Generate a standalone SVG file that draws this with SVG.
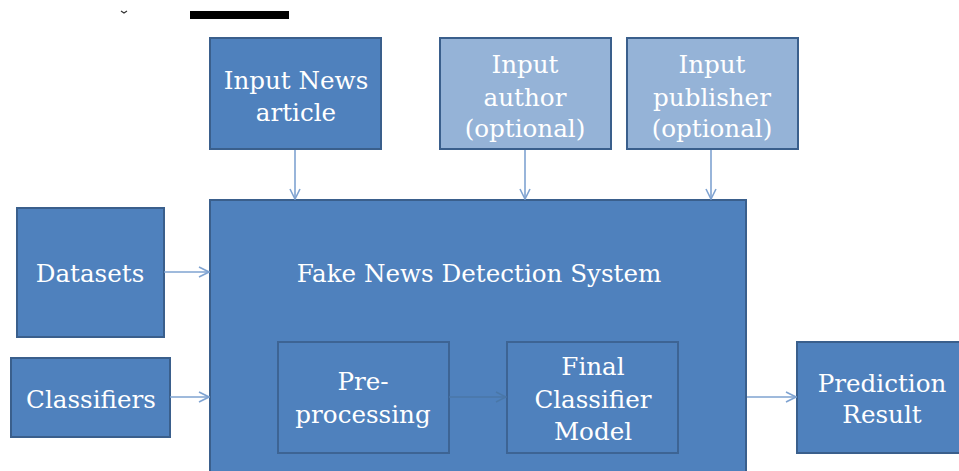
<svg xmlns="http://www.w3.org/2000/svg" width="959" height="471" viewBox="0 0 959 471">
  <style>
    .box { fill: #4F81BD; stroke: #3A5F8C; stroke-width: 2; }
    .box-light { fill: #95B3D7; stroke: #3A5F8C; stroke-width: 2; }
    .inner { fill: #4F81BD; stroke: #3D6494; stroke-width: 2; }
    .label { font-family: "DejaVu Serif", "Liberation Serif", serif; font-size: 24.6px; fill: #FFFFFF; text-anchor: middle; }
    .conn { stroke: #7FA3D1; stroke-width: 1.6; fill: none; }
    .conn-inner { stroke: #4A77A8; stroke-width: 1.4; fill: none; }
  </style>
  <defs>
    <marker id="arrow" viewBox="0 0 12 12" refX="11" refY="6" markerWidth="12" markerHeight="12" markerUnits="userSpaceOnUse" orient="auto">
      <path d="M1,1 L11,6 L1,11" fill="none" stroke="#7FA3D1" stroke-width="1.6"/>
    </marker>
    <marker id="arrow-inner" viewBox="0 0 12 12" refX="11" refY="6" markerWidth="12" markerHeight="12" markerUnits="userSpaceOnUse" orient="auto">
      <path d="M1,1 L11,6 L1,11" fill="none" stroke="#4A77A8" stroke-width="1.4"/>
    </marker>
  </defs>

  <rect width="959" height="471" fill="#FFFFFF"/>

  <!-- header remnants -->
  <rect x="190" y="11" width="99" height="8" fill="#000000"/>
  <path d="M121,11 L124,13 L127,11" fill="none" stroke="#333333" stroke-width="1.2"/>

  <!-- system container -->
  <g id="system">
    <rect class="box" x="210" y="200" width="536" height="290"/>
    <text class="label" x="479" y="282">Fake News Detection System</text>
  </g>

  <g id="input-news">
    <rect class="box" x="210" y="38" width="171" height="111"/>
    <text class="label" x="296" y="89">Input News</text>
    <text class="label" x="296" y="121">article</text>
  </g>

  <g id="input-author">
    <rect class="box-light" x="440" y="38" width="171" height="111"/>
    <text class="label" x="525" y="73">Input</text>
    <text class="label" x="525" y="106">author</text>
    <text class="label" x="525" y="137">(optional)</text>
  </g>

  <g id="input-publisher">
    <rect class="box-light" x="627" y="38" width="171" height="111"/>
    <text class="label" x="712" y="73">Input</text>
    <text class="label" x="712" y="106">publisher</text>
    <text class="label" x="712" y="137">(optional)</text>
  </g>

  <g id="datasets">
    <rect class="box" x="17" y="208" width="147" height="129"/>
    <text class="label" x="90" y="282">Datasets</text>
  </g>

  <g id="classifiers">
    <rect class="box" x="11" y="358" width="159" height="79"/>
    <text class="label" x="91" y="408">Classifiers</text>
  </g>

  <g id="preprocessing">
    <rect class="inner" x="278" y="342" width="171" height="111"/>
    <text class="label" x="363" y="390">Pre-</text>
    <text class="label" x="363" y="423">processing</text>
  </g>

  <g id="final-model">
    <rect class="inner" x="507" y="342" width="171" height="111"/>
    <text class="label" x="593" y="375">Final</text>
    <text class="label" x="593" y="408">Classifier</text>
    <text class="label" x="593" y="440">Model</text>
  </g>

  <g id="prediction">
    <rect class="box" x="797" y="342" width="170" height="111"/>
    <text class="label" x="882" y="392">Prediction</text>
    <text class="label" x="882" y="423">Result</text>
  </g>

  <g id="connectors">
    <line class="conn" x1="295" y1="150" x2="295" y2="199" marker-end="url(#arrow)"/>
    <line class="conn" x1="525" y1="150" x2="525" y2="199" marker-end="url(#arrow)"/>
    <line class="conn" x1="711" y1="150" x2="711" y2="199" marker-end="url(#arrow)"/>
    <line class="conn" x1="164" y1="272" x2="209" y2="272" marker-end="url(#arrow)"/>
    <line class="conn" x1="170" y1="397" x2="209" y2="397" marker-end="url(#arrow)"/>
    <line class="conn-inner" x1="449" y1="397" x2="506" y2="397" marker-end="url(#arrow-inner)"/>
    <line class="conn" x1="747" y1="397" x2="796" y2="397" marker-end="url(#arrow)"/>
  </g>
</svg>
